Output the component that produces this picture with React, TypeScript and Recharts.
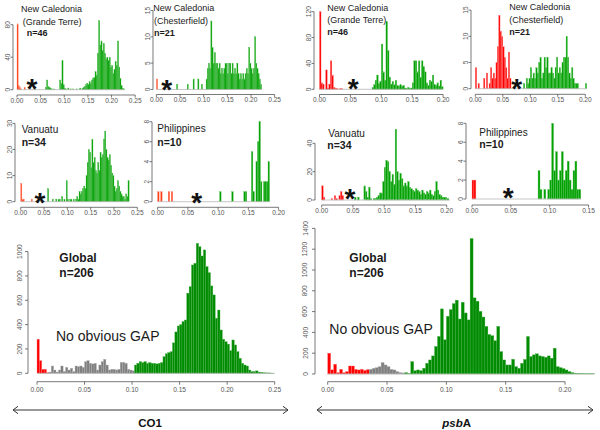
import React from 'react';
import { BarChart, Bar, XAxis, YAxis, ReferenceLine } from 'recharts';

// histogram bin width (pairwise distance)
const BIN = 0.0025;

// counts per bin (index i covers [i*BIN, (i+1)*BIN))
const co1GrandeTerre = [81,5,3,1,0,0,3,0,0,0, 0,0,0,0,0,1,0,0,0,0, 0,0,0,0,3,12,4,3,2,1, 0,1,0,0,0,0,12,8,36,6, 2,1,0,2,0,1,0,1,0,0, 1,0,0,2,0,2,3,4,6,8, 6,10,8,12,14,15,22,18,45,85, 55,60,48,57,45,38,40,36,40,28, 30,20,25,35,30,60,28,14,5,2, 1];
const co1Chesterfield = [2,0,0,0,0,0,0,0,0,0, 0,0,0,0,0,0,0,1,0,0, 0,0,0,0,0,0,1,0,0,0, 0,2,0,0,0,2,0,0,1,0, 0,0,2,4,5,4,13,8,5,7, 5,5,4,5,3,4,3,4,5,5, 3,5,5,3,5,3,4,3,5,3, 2,3,2,3,2,3,4,3,8,5, 4,3,4,10,5,4,3,2,1];
const psbaGrandeTerre = [120,10,8,0,30,2,8,44,22,3, 2,1,0,1,1,0,0,0,0,0, 0,0,0,0,0,0,0,0,0,0, 0,0,0,0,3,7,14,22,9,12, 70,27,14,105,60,19,8,12,7,14, 6,5,7,5,6,2,1,3,1,2, 10,44,44,27,44,18,44,35,27,10, 6,14,12,22,8,6,10,5,14,4];
const psbaChesterfield = [4,0,1,0,0,0,2,0,3,0, 1,4,2,3,2,5,8,14,11,10, 8,6,4,2,7,2,0,0,0,0, 0,0,0,0,0,1,0,2,1,2, 4,2,3,2,4,3,5,6,2,3, 6,4,6,3,3,4,3,2,4,6, 3,4,3,5,6,6,10,6,3,2, 4,2,1,1,1,0,0,0,0,0, 1];
const co1Vanuatu = [7,1,1,0,0,0,0,0,0,1, 0,0,0,0,0,0,0,0,0,0, 0,0,0,5,0,0,0,1,0,0, 1,0,1,1,0,2,0,1,0,8, 1,0,1,1,0,1,0,1,2,1, 4,3,4,5,6,5,10,15,20,19, 13,24,15,17,12,11,15,12,19,17, 18,24,27,20,17,16,18,14,11,10, 6,4,5,8,6,4,3,2,2,1, 3,2,8];
const co1Philippines = [1,0,1,0,0,0,0,1,0,1, 0,0,0,0,0,0,0,0,0,0, 0,0,0,0,0,0,0,0,0,0, 0,0,0,0,0,0,0,0,0,0, 0,1,0,0,0,0,0,0,0,1, 0,0,0,0,0,0,0,1,1,0, 0,0,5,1,0,4,6,8,2,0, 2,2,2,4];
const psbaVanuatu = [10,2,0,0,0,0,1,0,3,1, 0,3,6,3,0,0,0,0,0,0, 0,2,0,2,0,0,0,10,6,2, 9,1,0,1,1,2,3,5,5,13, 23,28,27,20,13,18,11,50,20,14, 19,15,10,12,10,13,9,8,7,6, 8,7,6,4,7,5,4,6,5,7, 4,3,6,13,7,4,3,2,2,2, 1,1];
const psbaPhilippines = [2,2,0,0,0,0,0,0,0,0, 0,0,0,0,0,0,0,0,0,0, 0,0,0,0,0,0,0,0,0,0, 0,0,0,0,3,1,0,1,0,1, 2,8,3,5,2,3,5,2,3,4, 2,1,3,4,1,1];
const co1Global = [280,104,33,33,5,10,60,27,10,27, 60,15,49,27,41,15,60,55,60,49, 96,104,82,77,82,27,68,96,115,68, 27,33,33,27,33,90,90,82,33,27, 20,68,82,96,88,96,82,88,82,82, 77,82,88,137,160,170,178,250,340,389, 400,425,438,658,712,890,904,1068,1040,964, 1014,877,827,718,644,452,520,356,280,260, 240,186,274,233,178,123,82,68,60,27, 14,14,20,10,8,5,3,3,2,1];
const psbaGlobal = [200,40,94,13,45,13,23,77,77,45, 39,45,35,42,45,55,61,71,110,87, 71,45,39,23,13,10,13,5,119,32, 39,32,55,103,135,174,265,361,626,329, 555,619,677,710,529,690,587,520,1303,732, 700,603,548,458,380,368,320,458,216,135, 87,87,142,71,55,103,140,361,168,184, 194,174,168,161,174,152,248,71,61,52, 39,23,13,6,5,4,3,2,2,2];

// axis ticks
const ticks025 = [0, 0.05, 0.1, 0.15, 0.2, 0.25];
const ticks020 = [0, 0.05, 0.1, 0.15, 0.2];
const ticks015 = [0, 0.05, 0.1, 0.15];
const yTicksGT1 = [0, 40, 80];
const yTicks15 = [0, 5, 10, 15];
const yTicksGT2 = [0, 40, 80, 120];
const yTicks30 = [0, 10, 20, 30];
const yTicks8 = [0, 2, 4, 6, 8];
const yTicks40 = [0, 20, 40];
const yTicks1000 = [0, 200, 400, 600, 800, 1000];
const yTicks1400 = [0, 200, 400, 600, 800, 1000, 1200, 1400];

// text labels
const titles = [
  { x: 21, y: 12.3, t: 'New Caledonia', s: 9, b: false },
  { x: 22.7, y: 24.8, t: '(Grande Terre)', s: 9, b: false },
  { x: 26.7, y: 36, t: 'n=46', s: 9, b: true },
  { x: 153.3, y: 11, t: 'New Caledonia', s: 9, b: false },
  { x: 154, y: 24.3, t: '(Chesterfield)', s: 9, b: false },
  { x: 154, y: 35.7, t: 'n=21', s: 9, b: true },
  { x: 327.3, y: 10.7, t: 'New Caledonia', s: 9, b: false },
  { x: 327.3, y: 23.3, t: '(Grande Terre)', s: 9, b: false },
  { x: 327.3, y: 35.3, t: 'n=46', s: 9, b: true },
  { x: 509.3, y: 10, t: 'New Caledonia', s: 9, b: false },
  { x: 509.3, y: 22.7, t: '(Chesterfield)', s: 9, b: false },
  { x: 509.3, y: 35, t: 'n=21', s: 9, b: true },
  { x: 21.7, y: 133.3, t: 'Vanuatu', s: 10, b: false },
  { x: 21.7, y: 146, t: 'n=34', s: 10.5, b: true },
  { x: 157.3, y: 132.3, t: 'Philippines', s: 10, b: false },
  { x: 157.3, y: 146, t: 'n=10', s: 10.5, b: true },
  { x: 328.3, y: 136.7, t: 'Vanuatu', s: 10, b: false },
  { x: 327.3, y: 149.3, t: 'n=34', s: 10.5, b: true },
  { x: 479.3, y: 135.7, t: 'Philippines', s: 10, b: false },
  { x: 479.3, y: 148.3, t: 'n=10', s: 10.5, b: true },
  { x: 59.3, y: 261.7, t: 'Global', s: 12, b: true },
  { x: 59.3, y: 276.7, t: 'n=206', s: 12, b: true },
  { x: 56, y: 340.5, t: 'No obvious GAP', s: 14, b: false },
  { x: 349.3, y: 261.7, t: 'Global', s: 12, b: true },
  { x: 349.3, y: 276.7, t: 'n=206', s: 12, b: true },
  { x: 329.3, y: 334.3, t: 'No obvious GAP', s: 14, b: false },
];
const stars = [
  [32, 82], [166.7, 83.3], [353.3, 82], [516.7, 82.3],
  [40, 195.5], [196.7, 195.5], [350, 192], [508.3, 191],
];

const CO1_RED = '#ff3b12';
const PSBA_RED = '#ff0000';
const GREEN = '#00a000';
const GLOBAL_GREEN = '#008b00';
const GREY = '#7f7f7f';

type Spec = {
  counts: number[];
  redEnd: number;
  greyEnd: number;
  xTicks: number[];
  yTicks: number[];
  L: number; R: number; T: number; B: number;
  x0: number; sx: number; y0: number; sy: number;
  red: string; green: string; big?: boolean; mr?: number; ym?: number;
};

const panels: Spec[] = [
  { counts: co1GrandeTerre, redEnd: 6, greyEnd: 6, xTicks: ticks025, yTicks: yTicksGT1, L: 12.7, R: 137, T: 18, B: 95, x0: 16.7, sx: 472.7, y0: 89.7, sy: 0.8125, red: CO1_RED, green: GREEN },
  { counts: co1Chesterfield, redEnd: 0, greyEnd: 0, xTicks: ticks025, yTicks: yTicks15, L: 153.3, R: 277, T: 8, B: 94.5, x0: 156.7, sx: 473, y0: 89.5, sy: 5.27, red: CO1_RED, green: GREEN },
  { counts: psbaGrandeTerre, redEnd: 14, greyEnd: 14, xTicks: ticks020, yTicks: yTicksGT2, L: 314, R: 447, T: 8, B: 94.5, x0: 319.5, sx: 618, y0: 89.3, sy: 0.647, red: PSBA_RED, green: GREEN, mr: 8 },
  { counts: psbaChesterfield, redEnd: 25, greyEnd: 25, xTicks: ticks020, yTicks: yTicks15, L: 470.7, R: 590, T: 8, B: 94.3, x0: 475, sx: 550, y0: 88.7, sy: 5.24, red: PSBA_RED, green: GREEN },
  { counts: co1Vanuatu, redEnd: 10, greyEnd: 10, xTicks: ticks025, yTicks: yTicks30, L: 15, R: 139, T: 121, B: 207.3, x0: 20.7, sx: 466.4, y0: 201.7, sy: 2.61, red: CO1_RED, green: GREEN },
  { counts: co1Philippines, redEnd: 9, greyEnd: 9, xTicks: ticks020, yTicks: yTicks8, L: 151.7, R: 281, T: 120, B: 207.3, x0: 157.3, sx: 605, y0: 201.7, sy: 10, red: CO1_RED, green: GREEN },
  { counts: psbaVanuatu, redEnd: 14, greyEnd: 14, xTicks: ticks020, yTicks: yTicks40, L: 315, R: 449, T: 125, B: 205, x0: 321.7, sx: 625, y0: 200, sy: 1.417, red: PSBA_RED, green: GREEN, mr: 6 },
  { counts: psbaPhilippines, redEnd: 1, greyEnd: 1, xTicks: ticks015, yTicks: yTicks8, L: 466, R: 592, T: 120, B: 205, x0: 472, sx: 777, y0: 199, sy: 9.46, red: PSBA_RED, green: GREEN, mr: 8 },
  { counts: co1Global, redEnd: 4, greyEnd: 40, xTicks: ticks025, yTicks: yTicks1000, L: 28.3, R: 278, T: 240, B: 381.7, x0: 37.3, sx: 950.7, y0: 373.3, sy: 0.1217, red: PSBA_RED, green: GLOBAL_GREEN, big: true, ym: 3 },
  { counts: psbaGlobal, redEnd: 13, greyEnd: 25, xTicks: ticks020, yTicks: yTicks1400, L: 315, R: 595, T: 225, B: 381.7, x0: 327.7, sx: 1186.7, y0: 374, sy: 0.104, red: PSBA_RED, green: GLOBAL_GREEN, big: true, mr: 5, ym: 4.5 },
];

function lighten(c: string): string {
  const map: Record<string, string> = {
    [CO1_RED]: '#ff8870',
    [PSBA_RED]: '#ff7a7a',
    [GREEN]: '#5cc45c',
    [GLOBAL_GREEN]: '#4fb34f',
    [GREY]: '#b3b3b3',
  };
  return map[c] || c;
}

function RotTick(props: any) {
  const { x, y, payload, fs } = props;
  return (
    <text x={x} y={y} transform={`rotate(-90 ${x} ${y})`} textAnchor="middle" fontSize={fs} fill="#555">
      {payload.value}
    </text>
  );
}

function Hist({ s }: { s: Spec }) {
  const big = !!s.big;
  const yw = big ? 18 : 12;
  const xh = big ? 16 : 12;
  const mt = 7;
  const mr = s.mr ?? 10;
  const plotW = s.R - s.L;
  const plotH = s.B - s.T;
  const xDom = [(s.L - s.x0) / s.sx, (s.R - s.x0) / s.sx];
  const yDom = [-(s.B - s.y0) / s.sy, (s.y0 - s.T) / s.sy];
  const data = s.counts.map((v, i) => ({ x: (i + 0.5) * BIN, v, i }));
  const barPx = BIN * s.sx;
  let last = 0;
  s.counts.forEach((v, i) => { if (v > 0) last = i; });
  const fs = 6.6;
  const colorOf = (i: number) => (i <= s.redEnd ? s.red : i <= s.greyEnd ? GREY : s.green);
  const shape = (p: any) => {
    if (!p.height || p.height <= 0) return <g />;
    const c = colorOf(p.payload.i);
    return <rect x={p.x} y={p.y} width={barPx} height={p.height} fill={c} stroke={lighten(c)} strokeWidth={0.35} />;
  };
  const axisColor = '#555';
  return (
    <div style={{ position: 'absolute', left: s.L - yw, top: s.T - mt }}>
      <BarChart
        width={yw + plotW + mr}
        height={mt + plotH + xh}
        data={data}
        margin={{ top: mt, right: mr, bottom: 0, left: 0 }}
        barCategoryGap={0}
        barGap={0}
      >
        <XAxis
          type="number"
          dataKey="x"
          domain={xDom}
          allowDataOverflow
          ticks={s.xTicks}
          interval={0}
          height={xh}
          axisLine={false}
          tickLine={{ stroke: axisColor, strokeWidth: 0.8 }}
          tickSize={big ? 3 : 2.5}
          tickMargin={big ? 2.3 : 0.6}
          tick={{ fontSize: fs, fill: '#555' }}
          tickFormatter={(v: number) => v.toFixed(2)}
        />
        <YAxis
          type="number"
          domain={yDom}
          allowDataOverflow
          ticks={s.yTicks}
          interval={0}
          width={yw}
          axisLine={false}
          tickLine={{ stroke: axisColor, strokeWidth: 0.8 }}
          tickSize={big ? 3 : 2.5}
          tickMargin={s.ym ?? 0.7}
          tick={(p: any) => <RotTick {...p} fs={fs} />}
        />
        <ReferenceLine
          segment={[{ x: 0, y: 0 }, { x: (last + 1) * BIN, y: 0 }]}
          stroke="#b8b8b8"
          strokeWidth={0.8}
          ifOverflow="visible"
        />
        <Bar dataKey="v" isAnimationActive={false} shape={shape} />
        <ReferenceLine
          segment={[{ x: xDom[0], y: 0 }, { x: xDom[0], y: s.yTicks[s.yTicks.length - 1] }]}
          stroke={axisColor}
          strokeWidth={0.8}
          ifOverflow="visible"
        />
        <ReferenceLine
          segment={[{ x: s.xTicks[0], y: yDom[0] }, { x: s.xTicks[s.xTicks.length - 1], y: yDom[0] }]}
          stroke={axisColor}
          strokeWidth={0.8}
          ifOverflow="visible"
        />
      </BarChart>
    </div>
  );
}

export default function App() {
  return (
    <div
      style={{
        position: 'absolute',
        left: 0,
        top: 0,
        width: 600,
        height: 430,
        background: '#fff',
        overflow: 'hidden',
        fontFamily: "'Liberation Sans', Arial, sans-serif",
      }}
    >
      {panels.map((s, k) => (
        <Hist key={k} s={s} />
      ))}
      <svg width={600} height={430} style={{ position: 'absolute', left: 0, top: 0, pointerEvents: 'none' }}>
        {titles.map((t, k) => (
          <text key={k} x={t.x} y={t.y} fontSize={t.s} fontWeight={t.b ? 'bold' : 'normal'} fill="#1a1a1a">
            {t.t}
          </text>
        ))}
        {stars.map(([x, y], k) => (
          <text key={'s' + k} x={x} y={y + 16} fontSize={28} fontWeight="bold" textAnchor="middle" fill="#111">
            *
          </text>
        ))}
        <g stroke="#333" strokeWidth={1} fill="none">
          <line x1={13} y1={410} x2={288} y2={410} />
          <polyline points="18,406.3 13,410 18,413.7" />
          <polyline points="283,406.3 288,410 283,413.7" />
          <line x1={317} y1={410} x2={593} y2={410} />
          <polyline points="322,406.3 317,410 322,413.7" />
          <polyline points="588,406.3 593,410 588,413.7" />
        </g>
        <text x={150} y={426.7} fontSize={11.5} fontWeight="bold" textAnchor="middle" fill="#111">
          CO1
        </text>
        <text x={456.7} y={426.7} fontSize={11.5} fontWeight="bold" textAnchor="middle" fill="#111">
          <tspan fontStyle="italic">psb</tspan>
          <tspan>A</tspan>
        </text>
      </svg>
    </div>
  );
}
